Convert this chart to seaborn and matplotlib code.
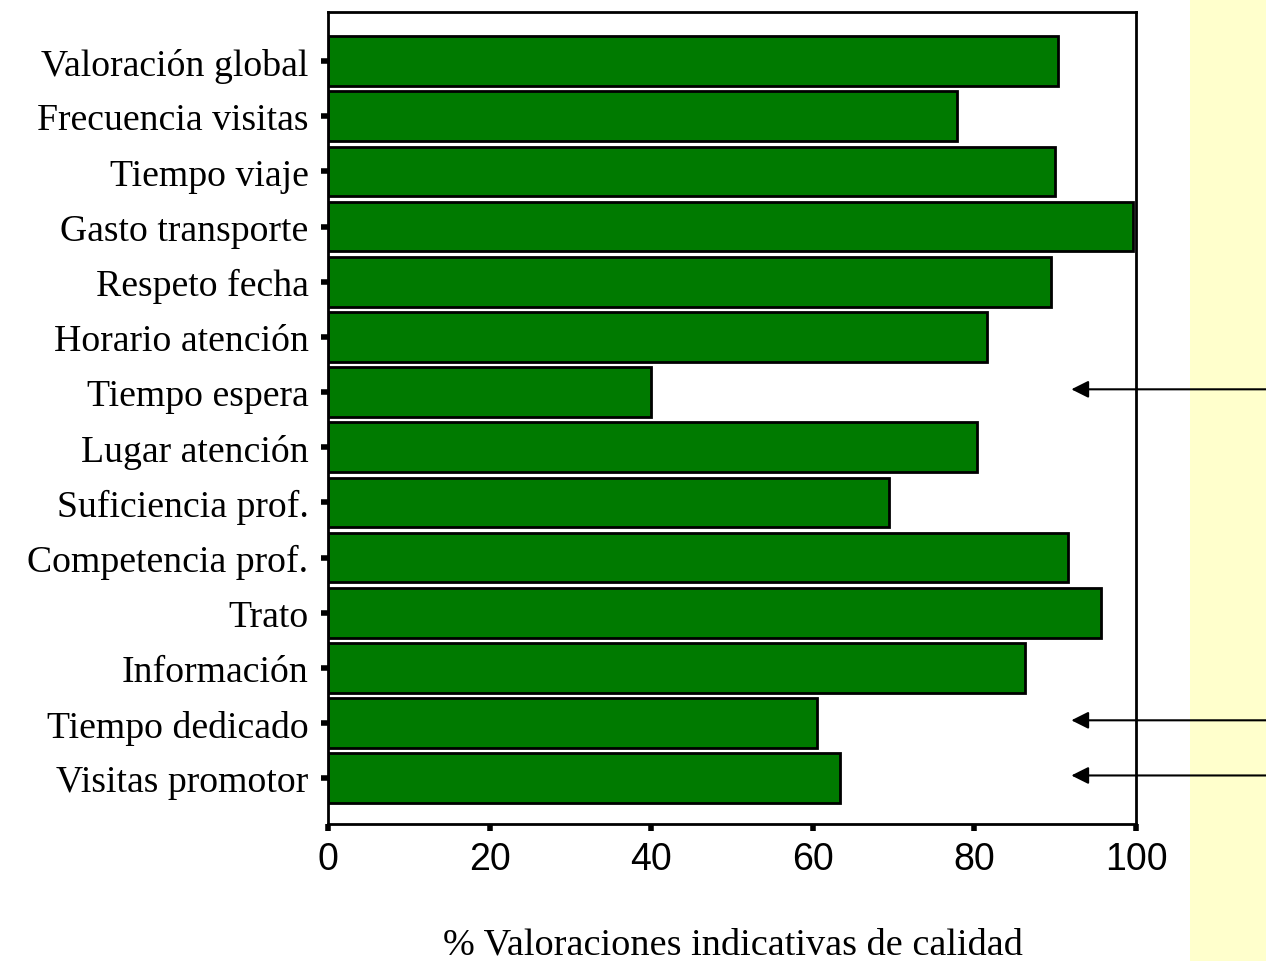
import matplotlib
matplotlib.use("Agg")
import matplotlib.pyplot as plt
from matplotlib.patches import Rectangle
import seaborn as sns
import pandas as pd

categorias = [
    "Valoración global", "Frecuencia visitas", "Tiempo viaje", "Gasto transporte",
    "Respeto fecha", "Horario atención", "Tiempo espera", "Lugar atención",
    "Suficiencia prof.", "Competencia prof.", "Trato", "Información",
    "Tiempo dedicado", "Visitas promotor",
]
porcentajes = [90.3, 77.8, 90.0, 99.6, 89.5, 81.6, 40.0, 80.3, 69.4, 91.6, 95.7, 86.3, 60.5, 63.4]
destacados = ["Tiempo espera", "Tiempo dedicado", "Visitas promotor"]
xticks = [0, 20, 40, 60, 80, 100]

sns.set_style("white")
plt.rcParams["text.color"] = "black"
plt.rcParams["xtick.color"] = "black"
plt.rcParams["ytick.color"] = "black"

df = pd.DataFrame({"categoria": categorias, "pct": porcentajes})

fig = plt.figure(figsize=(12.66, 9.62), dpi=100)
fig.patch.set_facecolor("white")
# pale yellow side panel, behind everything else
fig.patches.append(Rectangle((0.94, 0), 0.06, 1, transform=fig.transFigure,
                             facecolor="#FFFFCC", edgecolor="none", zorder=-5))

ax = fig.add_axes([0.2591, 0.1424, 0.8973 - 0.2591, 0.9865 - 0.1424])
ax.set_facecolor("none")
sns.barplot(data=df, x="pct", y="categoria", orient="h", ax=ax,
            color="#007A00", saturation=1, width=0.9,
            edgecolor="black", linewidth=2)

ax.set_xlim(0, 100)
ax.set_ylim(13.83, -0.89)
ax.set_xticks(xticks)
ax.set_xticklabels([str(t) for t in xticks], family="Liberation Sans", fontsize=27)
ax.set_yticks(range(len(categorias)))
ax.set_yticklabels(categorias, family="Liberation Serif", fontsize=27.2)
ax.tick_params(axis="both", left=True, bottom=True, length=5, width=4,
               color="black", labelcolor="black", direction="out")
ax.tick_params(axis="y", pad=9)
ax.tick_params(axis="x", pad=7)
ax.set_ylabel("")
ax.set_xlabel("")
for s in ax.spines.values():
    s.set_visible(True)
    s.set_color("black")
    s.set_linewidth(2)

fig.text(733 / 1266, 1 - 945 / 962, "% Valoraciones indicativas de calidad",
         family="Liberation Serif", fontsize=27.5, color="black",
         ha="center", va="center")

# arrows pointing at the weakest items
for nombre in destacados:
    yi = categorias.index(nombre)
    ax.annotate("", xy=(92, yi - 0.05), xycoords="data",
                xytext=(1.0, yi - 0.05), textcoords=("figure fraction", "data"),
                arrowprops=dict(arrowstyle="-|>", color="black", lw=1.5,
                                mutation_scale=26, shrinkA=0, shrinkB=0),
                annotation_clip=False)

fig.savefig("out.png", dpi=100)
